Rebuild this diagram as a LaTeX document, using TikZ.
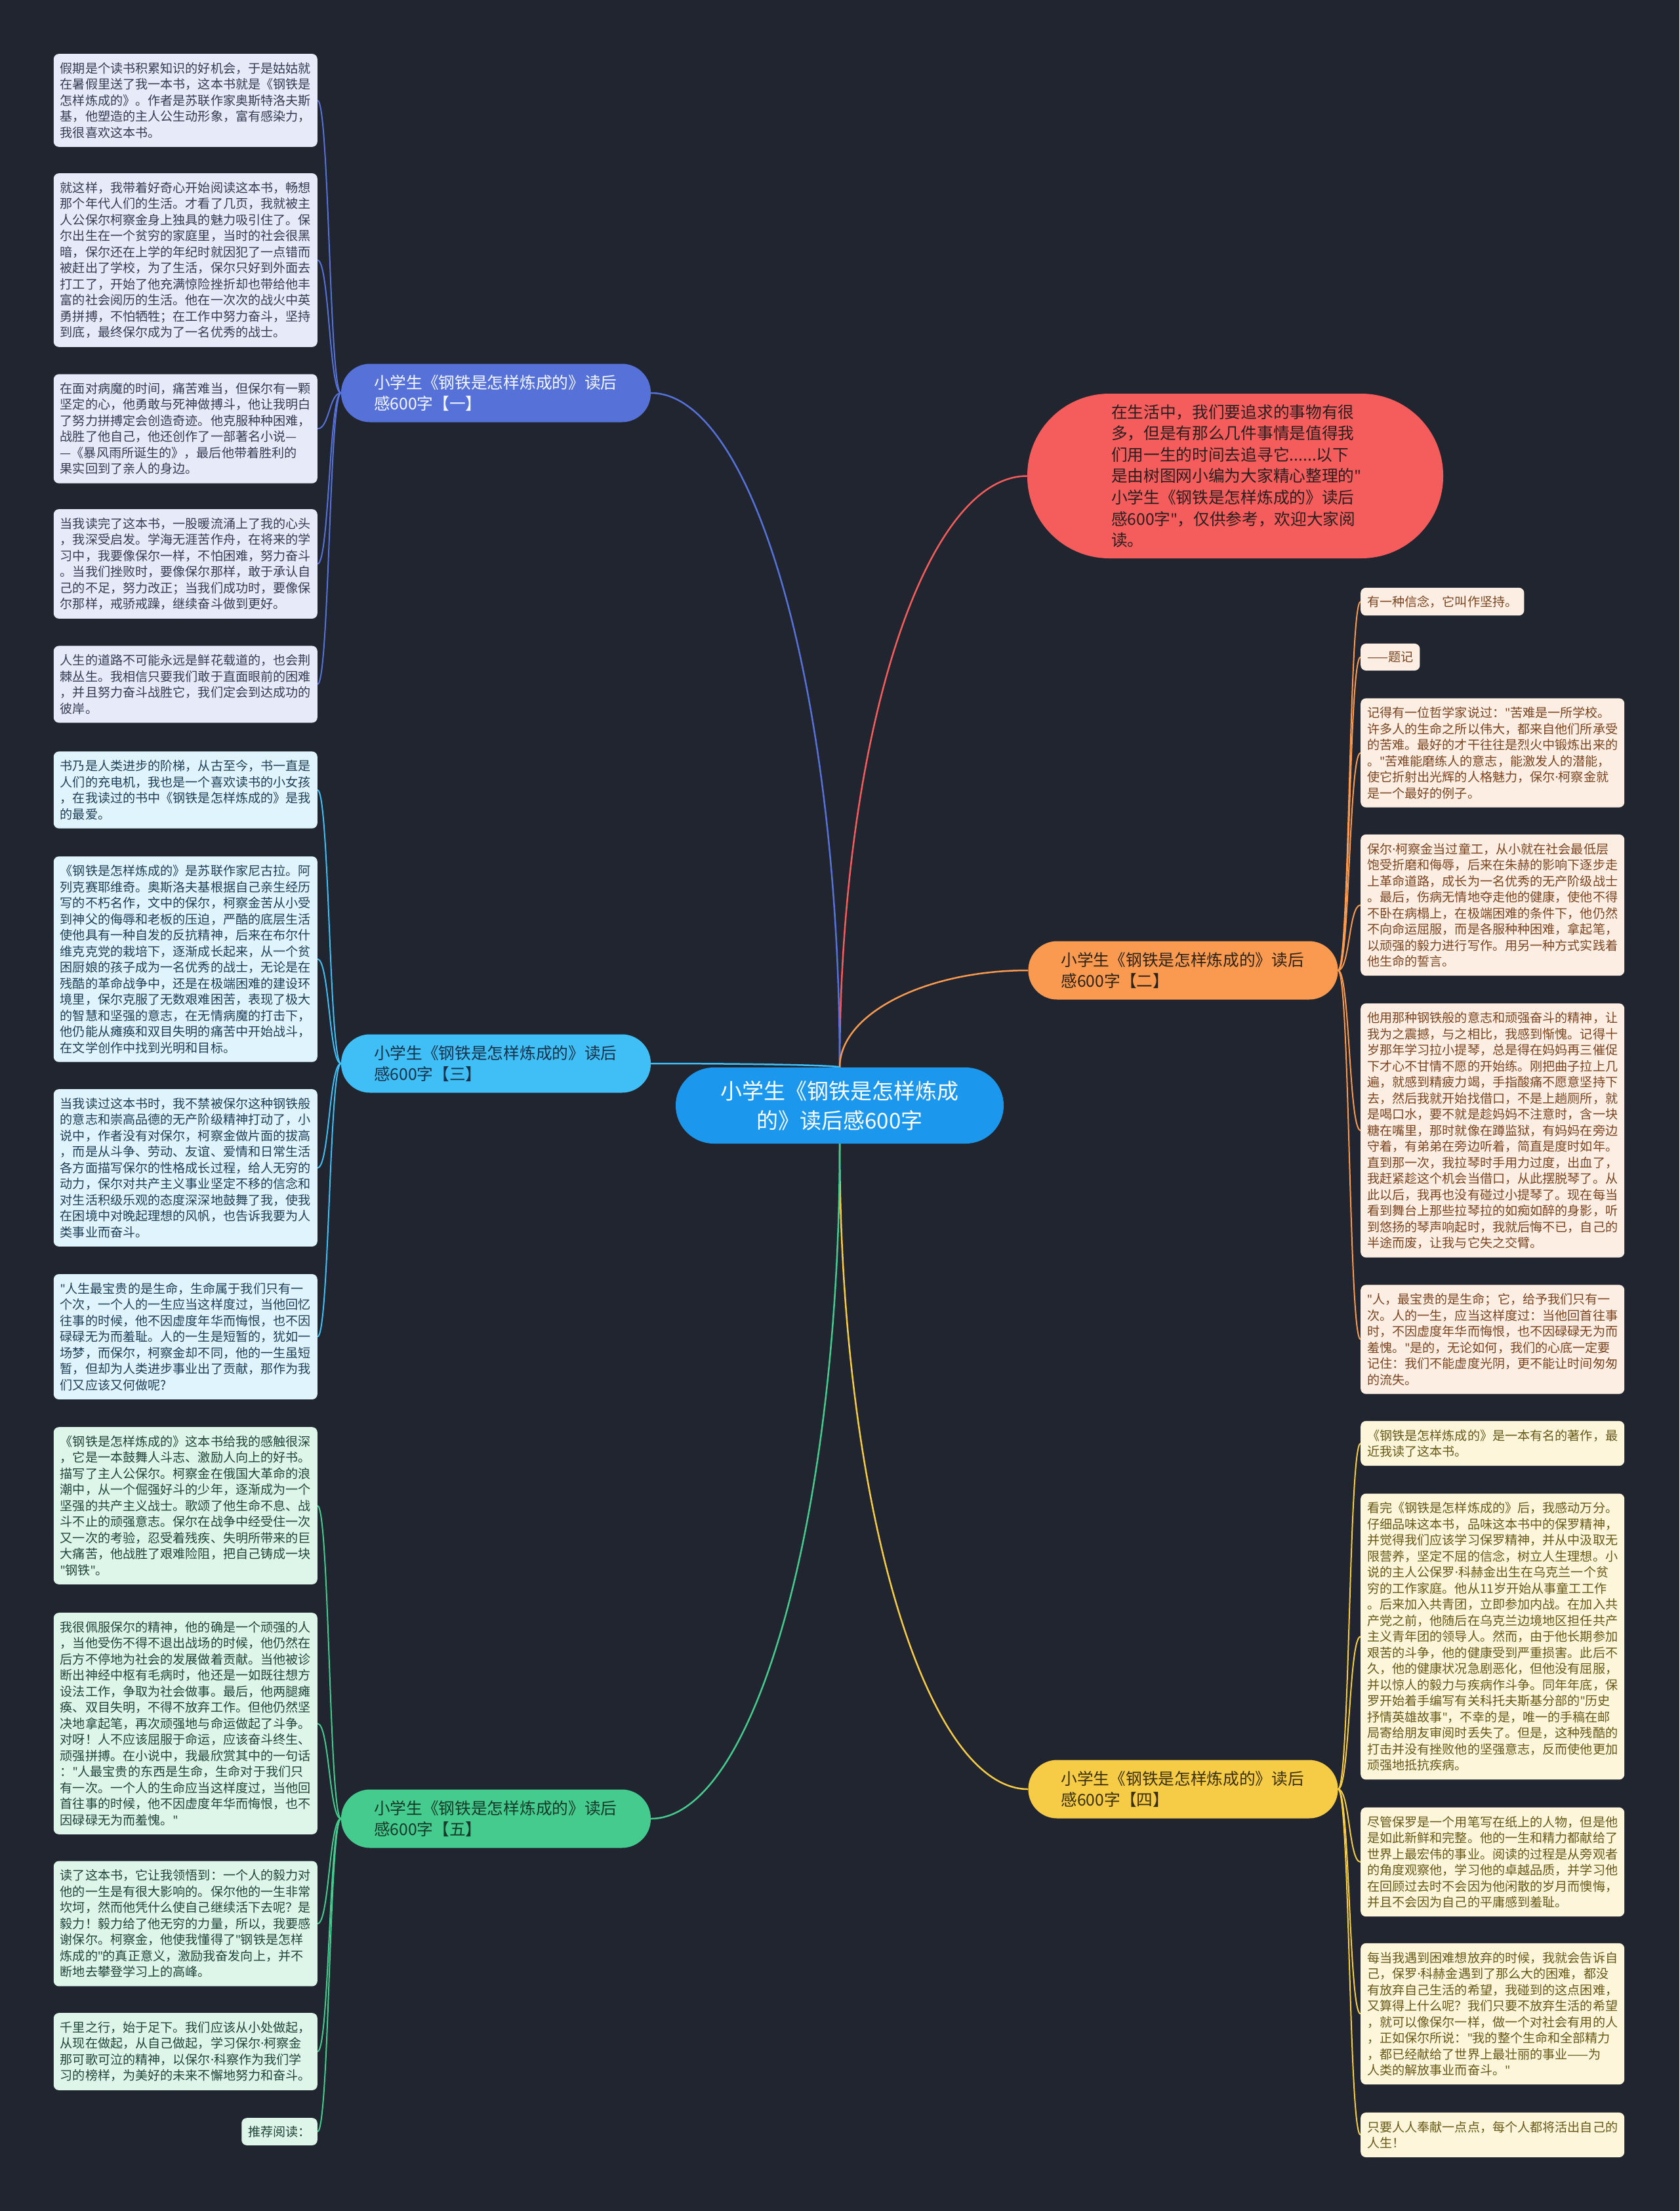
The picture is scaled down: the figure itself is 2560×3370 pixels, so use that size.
\documentclass[tikz,border=0pt]{standalone}
\usepackage{fontspec}
\setmainfont{Noto Sans CJK SC}
\newfontfamily\latf{Noto Sans}
\newcommand\qmark{{\latf"}}
\newcommand\mdot{{\latf ·}}
\pgfdeclarelayer{bglayer}
\pgfdeclarelayer{edgelayer}
\pgfsetlayers{bglayer,edgelayer,main}
\newcommand\leaffont{\fontsize{19.1pt}{24.5pt}\selectfont}
\newcommand\branchfont{\fontsize{24.7pt}{32pt}\selectfont}
\newcommand\introfont{\fontsize{24.7pt}{32.6pt}\selectfont}
\newcommand\centerfont{\fontsize{33pt}{45pt}\selectfont}
\definecolor{bgc}{HTML}{21252F}
\definecolor{cCenter}{HTML}{1B98EE}
\definecolor{cIntro}{HTML}{F55D5D}
\definecolor{cA}{HTML}{5672D8}
\definecolor{cB}{HTML}{F99A50}
\definecolor{cC}{HTML}{40BFF6}
\definecolor{cD}{HTML}{F6CB45}
\definecolor{cE}{HTML}{45CB8E}
\definecolor{fA}{HTML}{E7EAF9}
\definecolor{fB}{HTML}{FDEEE3}
\definecolor{fC}{HTML}{E0F4FD}
\definecolor{fD}{HTML}{FDF6DA}
\definecolor{fE}{HTML}{DEF5EA}
\definecolor{tA}{HTML}{363B52}
\definecolor{tB}{HTML}{7A4420}
\definecolor{tC}{HTML}{1E3F57}
\definecolor{tD}{HTML}{675818}
\definecolor{tE}{HTML}{21443A}
\tikzset{
  leafbox/.style={rounded corners=8pt, inner xsep=10pt, inner ysep=13pt, text width=382pt, align=left, font=\leaffont},
  shortbox/.style={rounded corners=8pt, inner xsep=10pt, inner ysep=12pt, align=left, font=\leaffont},
  leafA/.style={leafbox, fill=fA, text=tA, anchor=east},
  leafC/.style={leafbox, fill=fC, text=tC, anchor=east},
  leafE/.style={leafbox, fill=fE, text=tE, anchor=east},
  leafB/.style={leafbox, fill=fB, text=tB, anchor=west},
  leafD/.style={leafbox, fill=fD, text=tD, anchor=west},
  branchbox/.style={rounded corners=44pt, minimum width=472pt, minimum height=89pt, text width=372pt, align=left, font=\branchfont, inner xsep=0pt},
  mainedge/.style={line width=2.5pt},
  leafedge/.style={line width=2pt},
}
\begin{document}
\begin{tikzpicture}[x=1pt,y=-1pt]
\begin{pgfonlayer}{bglayer}
\fill[bgc] (0,0) rectangle (2560,3370);
\end{pgfonlayer}
\useasboundingbox (0,0) rectangle (2560,3370);

% center and first-level nodes
\node[fill=cCenter, text=white, rounded corners=58pt, minimum width=500pt, minimum height=116pt, align=center, font=\centerfont, inner sep=0pt] (c) at (1280,1685) {小学生《钢铁是怎样炼成\\的》读后感600字};

\node[fill=cIntro, text={rgb,255:red,42;green,30;blue,30}, rounded corners=125pt, minimum width=634pt, minimum height=251pt, text width=378pt, align=left, font=\introfont, inner xsep=0pt] (intro) at (1883,725.5) {在生活中，我们要追求的事物有很\\多，但是有那么几件事情是值得我\\们用一生的时间去追寻它......以下\\是由树图网小编为大家精心整理的\qmark\\小学生《钢铁是怎样炼成的》读后\\感600字\qmark{}，仅供参考，欢迎大家阅\\读。};

\node[branchbox, fill=cA, text={rgb,255:red,245;green,247;blue,255}] (b1) at (756,599) {小学生《钢铁是怎样炼成的》读后\\感600字【一】};
\node[branchbox, fill=cB, text={rgb,255:red,46;green,34;blue,22}] (b2) at (1803.5,1479) {小学生《钢铁是怎样炼成的》读后\\感600字【二】};
\node[branchbox, fill=cC, text={rgb,255:red,23;green,50;blue,74}] (b3) at (756,1621) {小学生《钢铁是怎样炼成的》读后\\感600字【三】};
\node[branchbox, fill=cD, text={rgb,255:red,58;green,48;blue,16}] (b4) at (1803.5,2727) {小学生《钢铁是怎样炼成的》读后\\感600字【四】};
\node[branchbox, fill=cE, text={rgb,255:red,22;green,58;blue,42}] (b5) at (756,2772) {小学生《钢铁是怎样炼成的》读后\\感600字【五】};

% branch 1 leaves
\node[leafA] (l1) at (484,153) {假期是个读书积累知识的好机会，于是姑姑就\\在暑假里送了我一本书，这本书就是《钢铁是\\怎样炼成的》。作者是苏联作家奥斯特洛夫斯\\基，他塑造的主人公生动形象，富有感染力，\\我很喜欢这本书。};
\node[leafA] (l2) at (484,396.5) {就这样，我带着好奇心开始阅读这本书，畅想\\那个年代人们的生活。才看了几页，我就被主\\人公保尔柯察金身上独具的魅力吸引住了。保\\尔出生在一个贫穷的家庭里，当时的社会很黑\\暗，保尔还在上学的年纪时就因犯了一点错而\\被赶出了学校，为了生活，保尔只好到外面去\\打工了，开始了他充满惊险挫折却也带给他丰\\富的社会阅历的生活。他在一次次的战火中英\\勇拼搏，不怕牺牲；在工作中努力奋斗，坚持\\到底，最终保尔成为了一名优秀的战士。};
\node[leafA] (l3) at (484,653.5) {在面对病魔的时间，痛苦难当，但保尔有一颗\\坚定的心，他勇敢与死神做搏斗，他让我明白\\了努力拼搏定会创造奇迹。他克服种种困难，\\战胜了他自己，他还创作了一部著名小说—\\—《暴风雨所诞生的》，最后他带着胜利的\\果实回到了亲人的身边。};
\node[leafA] (l4) at (484,859.5) {当我读完了这本书，一股暖流涌上了我的心头\\，我深受启发。学海无涯苦作舟，在将来的学\\习中，我要像保尔一样，不怕困难，努力奋斗\\。当我们挫败时，要像保尔那样，敢于承认自\\己的不足，努力改正；当我们成功时，要像保\\尔那样，戒骄戒躁，继续奋斗做到更好。};
\node[leafA] (l5) at (484,1043) {人生的道路不可能永远是鲜花载道的，也会荆\\棘丛生。我相信只要我们敢于直面眼前的困难\\，并且努力奋斗战胜它，我们定会到达成功的\\彼岸。};

% branch 3 leaves
\node[leafC] (l6) at (484,1204) {书乃是人类进步的阶梯，从古至今，书一直是\\人们的充电机，我也是一个喜欢读书的小女孩\\，在我读过的书中《钢铁是怎样炼成的》是我\\的最爱。};
\node[leafC] (l7) at (484,1462) {《钢铁是怎样炼成的》是苏联作家尼古拉。阿\\列克赛耶维奇。奥斯洛夫基根据自己亲生经历\\写的不朽名作，文中的保尔，柯察金苦从小受\\到神父的侮辱和老板的压迫，严酷的底层生活\\使他具有一种自发的反抗精神，后来在布尔什\\维克克党的栽培下，逐渐成长起来，从一个贫\\困厨娘的孩子成为一名优秀的战士，无论是在\\残酷的革命战争中，还是在极端困难的建设环\\境里，保尔克服了无数艰难困苦，表现了极大\\的智慧和坚强的意志，在无情病魔的打击下，\\他仍能从瘫痪和双目失明的痛苦中开始战斗，\\在文学创作中找到光明和目标。};
\node[leafC] (l8) at (484,1780) {当我读过这本书时，我不禁被保尔这种钢铁般\\的意志和崇高品德的无产阶级精神打动了，小\\说中，作者没有对保尔，柯察金做片面的拔高\\，而是从斗争、劳动、友谊、爱情和日常生活\\各方面描写保尔的性格成长过程，给人无穷的\\动力，保尔对共产主义事业坚定不移的信念和\\对生活积级乐观的态度深深地鼓舞了我，使我\\在困境中对晚起理想的风帆，也告诉我要为人\\类事业而奋斗。};
\node[leafC] (l9) at (484,2037.5) {\qmark{}人生最宝贵的是生命，生命属于我们只有一\\个次，一个人的一生应当这样度过，当他回忆\\往事的时候，他不因虚度年华而悔恨，也不因\\碌碌无为而羞耻。人的一生是短暂的，犹如一\\场梦，而保尔，柯察金却不同，他的一生虽短\\暂，但却为人类进步事业出了贡献，那作为我\\们又应该又何做呢?};

% branch 5 leaves
\node[leafE] (l10) at (484,2295) {《钢铁是怎样炼成的》这本书给我的感触很深\\，它是一本鼓舞人斗志、激励人向上的好书。\\描写了主人公保尔。柯察金在俄国大革命的浪\\潮中，从一个倔强好斗的少年，逐渐成为一个\\坚强的共产主义战士。歌颂了他生命不息、战\\斗不止的顽强意志。保尔在战争中经受住一次\\又一次的考验，忍受着残疾、失明所带来的巨\\大痛苦，他战胜了艰难险阻，把自己铸成一块\\\qmark{}钢铁\qmark{}。};
\node[leafE] (l11) at (484,2627) {我很佩服保尔的精神，他的确是一个顽强的人\\，当他受伤不得不退出战场的时候，他仍然在\\后方不停地为社会的发展做着贡献。当他被诊\\断出神经中枢有毛病时，他还是一如既往想方\\设法工作，争取为社会做事。最后，他两腿瘫\\痪、双目失明，不得不放弃工作。但他仍然坚\\决地拿起笔，再次顽强地与命运做起了斗争。\\对呀！人不应该屈服于命运，应该奋斗终生、\\顽强拼搏。在小说中，我最欣赏其中的一句话\\：\qmark{}人最宝贵的东西是生命，生命对于我们只\\有一次。一个人的生命应当这样度过，当他回\\首往事的时候，他不因虚度年华而悔恨，也不\\因碌碌无为而羞愧。\qmark};
\node[leafE] (l12) at (484,2932) {读了这本书，它让我领悟到：一个人的毅力对\\他的一生是有很大影响的。保尔他的一生非常\\坎坷，然而他凭什么使自己继续活下去呢？是\\毅力！毅力给了他无穷的力量，所以，我要感\\谢保尔。柯察金，他使我懂得了\qmark{}钢铁是怎样\\炼成的\qmark{}的真正意义，激励我奋发向上，并不\\断地去攀登学习上的高峰。};
\node[leafE] (l13) at (484,3127) {千里之行，始于足下。我们应该从小处做起，\\从现在做起，从自己做起，学习保尔\mdot{}柯察金\\那可歌可泣的精神，以保尔\mdot{}科察作为我们学\\习的榜样，为美好的未来不懈地努力和奋斗。};
\node[shortbox, fill=fE, text=tE, anchor=east] (l14) at (484,3249) {推荐阅读：};

% branch 2 leaves
\node[shortbox, fill=fB, text=tB, anchor=west] (r1) at (2074,917) {有一种信念，它叫作坚持。};
\node[shortbox, fill=fB, text=tB, anchor=west] (r2) at (2074,1001.5) {——题记};
\node[leafB] (r3) at (2074,1147.5) {记得有一位哲学家说过：\qmark{}苦难是一所学校。\\许多人的生命之所以伟大，都来自他们所承受\\的苦难。最好的才干往往是烈火中锻炼出来的\\。\qmark{}苦难能磨练人的意志，能激发人的潜能，\\使它折射出光辉的人格魅力，保尔\mdot{}柯察金就\\是一个最好的例子。};
\node[leafB] (r4) at (2074,1379.5) {保尔\mdot{}柯察金当过童工，从小就在社会最低层\\饱受折磨和侮辱，后来在朱赫的影响下逐步走\\上革命道路，成长为一名优秀的无产阶级战士\\。最后，伤病无情地夺走他的健康，使他不得\\不卧在病榻上，在极端困难的条件下，他仍然\\不向命运屈服，而是各服种种困难，拿起笔，\\以顽强的毅力进行写作。用另一种方式实践着\\他生命的誓言。};
\node[leafB] (r5) at (2074,1723) {他用那种钢铁般的意志和顽强奋斗的精神，让\\我为之震撼，与之相比，我感到惭愧。记得十\\岁那年学习拉小提琴，总是得在妈妈再三催促\\下才心不甘情不愿的开始练。刚把曲子拉上几\\遍，就感到精疲力竭，手指酸痛不愿意坚持下\\去，然后我就开始找借口，不是上趟厕所，就\\是喝口水，要不就是趁妈妈不注意时，含一块\\糖在嘴里，那时就像在蹲监狱，有妈妈在旁边\\守着，有弟弟在旁边听着，简直是度时如年。\\直到那一次，我拉琴时手用力过度，出血了，\\我赶紧趁这个机会当借口，从此摆脱琴了。从\\此以后，我再也没有碰过小提琴了。现在每当\\看到舞台上那些拉琴拉的如痴如醉的身影，听\\到悠扬的琴声响起时，我就后悔不已，自己的\\半途而废，让我与它失之交臂。};
\node[leafB] (r6) at (2074,2041.5) {\qmark{}人，最宝贵的是生命；它，给予我们只有一\\次。人的一生，应当这样度过：当他回首往事\\时，不因虚度年华而悔恨，也不因碌碌无为而\\羞愧。\qmark{}是的，无论如何，我们的心底一定要\\记住：我们不能虚度光阴，更不能让时间匆匆\\的流失。};

% branch 4 leaves
\node[leafD] (r7) at (2074,2200) {《钢铁是怎样炼成的》是一本有名的著作，最\\近我读了这本书。};
\node[leafD] (r8) at (2074,2494.5) {看完《钢铁是怎样炼成的》后，我感动万分。\\仔细品味这本书，品味这本书中的保罗精神，\\并觉得我们应该学习保罗精神，并从中汲取无\\限营养，坚定不屈的信念，树立人生理想。小\\说的主人公保罗\mdot{}科赫金出生在乌克兰一个贫\\穷的工作家庭。他从11岁开始从事童工工作\\。后来加入共青团，立即参加内战。在加入共\\产党之前，他随后在乌克兰边境地区担任共产\\主义青年团的领导人。然而，由于他长期参加\\艰苦的斗争，他的健康受到严重损害。此后不\\久，他的健康状况急剧恶化，但他没有屈服，\\并以惊人的毅力与疾病作斗争。同年年底，保\\罗开始着手编写有关科托夫斯基分部的\qmark{}历史\\抒情英雄故事\qmark{}，不幸的是，唯一的手稿在邮\\局寄给朋友审阅时丢失了。但是，这种残酷的\\打击并没有挫败他的坚强意志，反而使他更加\\顽强地抵抗疾病。};
\node[leafD] (r9) at (2074,2838) {尽管保罗是一个用笔写在纸上的人物，但是他\\是如此新鲜和完整。他的一生和精力都献给了\\世界上最宏伟的事业。阅读的过程是从旁观者\\的角度观察他，学习他的卓越品质，并学习他\\在回顾过去时不会因为他闲散的岁月而懊悔，\\并且不会因为自己的平庸感到羞耻。};
\node[leafD] (r10) at (2074,3069.5) {每当我遇到困难想放弃的时候，我就会告诉自\\己，保罗\mdot{}科赫金遇到了那么大的困难，都没\\有放弃自己生活的希望，我碰到的这点困难，\\又算得上什么呢？我们只要不放弃生活的希望\\，就可以像保尔一样，做一个对社会有用的人\\，正如保尔所说：\qmark{}我的整个生命和全部精力\\，都已经献给了世界上最壮丽的事业——为\\人类的解放事业而奋斗。\qmark};
\node[leafD] (r11) at (2074,3254) {只要人人奉献一点点，每个人都将活出自己的\\人生！};

\begin{pgfonlayer}{edgelayer}
% center to first level
\draw[mainedge, draw=cIntro] (c.north) .. controls +(0,-496) and +(-159,0) .. (intro.west);
\draw[mainedge, draw=cA] (c.north) .. controls +(0,-565) and +(158,0) .. (b1.east);
\draw[mainedge, draw=cB] (c.north) .. controls +(0,-81) and +(-158,0) .. (b2.west);
\draw[mainedge, draw=cC] (c.north) .. controls +(0,-3) and +(158,0) .. (b3.east);
\draw[mainedge, draw=cD] (c.south) .. controls +(0,541) and +(-158,0) .. (b4.west);
\draw[mainedge, draw=cE] (c.south) .. controls +(0,566) and +(158,0) .. (b5.east);
% branch 1
\foreach \n in {l1,l2,l3,l4,l5}
  \draw[leafedge, draw=cA] (b1.west) .. controls +(-18,0) and +(18,0) .. (\n.east);
% branch 3
\foreach \n in {l6,l7,l8,l9}
  \draw[leafedge, draw=cC] (b3.west) .. controls +(-18,0) and +(18,0) .. (\n.east);
% branch 5
\foreach \n in {l10,l11,l12,l13,l14}
  \draw[leafedge, draw=cE] (b5.west) .. controls +(-18,0) and +(18,0) .. (\n.east);
% branch 2
\foreach \n in {r1,r2,r3,r4,r5,r6}
  \draw[leafedge, draw=cB] (b2.east) .. controls +(18,0) and +(-18,0) .. (\n.west);
% branch 4
\foreach \n in {r7,r8,r9,r10,r11}
  \draw[leafedge, draw=cD] (b4.east) .. controls +(18,0) and +(-18,0) .. (\n.west);
\end{pgfonlayer}
\end{tikzpicture}
\end{document}
